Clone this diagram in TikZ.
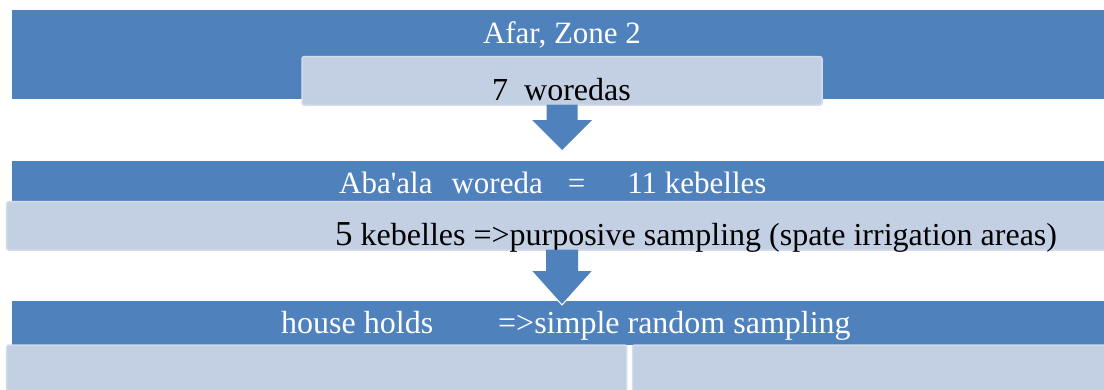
\documentclass[tikz,border=0pt]{standalone}
\usepackage{fontspec}
\setmainfont{Liberation Serif}
\definecolor{barblue}{HTML}{4F81BD}
\definecolor{lightfill}{HTML}{C3CFE2}
\definecolor{lightedge}{HTML}{D3DCEB}
\begin{document}
\begin{tikzpicture}[x=1pt,y=-1pt,
  bar/.style={fill=barblue, draw=none, anchor=north west, inner sep=0pt, outer sep=0pt},
  lightbox/.style={fill=lightfill, draw=lightedge, line width=1.5pt, rounded corners=2pt, anchor=north west, inner sep=0pt, outer sep=0pt},
  whitetxt/.style={text=white, font=\fontsize{31}{31}\selectfont, inner sep=0pt},
  blacktxt/.style={text=black, font=\fontsize{32}{32}\selectfont, inner sep=0pt},
  blockarrow/.style={fill=barblue, draw=none},
  tipedge/.style={draw=white, line width=1pt, line join=miter}
]
\useasboundingbox (0,0) rectangle (1104,389);
\clip (0,0) rectangle (1104,389);

% level 1
\node[bar, minimum width=1100pt, minimum height=89.3pt] (bar1) at (11.7,10) {};
\node[lightbox, minimum width=520pt, minimum height=48.3pt] (light1) at (302,56.7) {};
\node[whitetxt, anchor=base] (t1) at (562,43) {Afar, Zone 2};
\node[blacktxt, anchor=base west] (t2) at (492,100) {7\hspace{16pt}woredas};

% level 2
\node[bar, minimum width=1100pt, minimum height=40.7pt] (bar2) at (11.7,161) {};
\node[lightbox, minimum width=1105pt, minimum height=48.3pt] (light2) at (6.7,201.7) {};
\node[whitetxt, anchor=base west] (t3) at (339,193) {Aba\textquotesingle ala\hspace{19pt}woreda\hspace{25pt}=\hspace{42pt}11 kebelles};
\node[blacktxt, anchor=base west] (t4) at (335,245) {{\fontsize{35}{35}\selectfont 5} kebelles =>purposive sampling (spate irrigation areas)};

% level 3
\node[bar, minimum width=1100pt, minimum height=44.3pt] (bar3) at (11.7,300.7) {};
\node[lightbox, minimum width=620pt, minimum height=50pt] (light3a) at (6.7,345) {};
\node[lightbox, minimum width=480pt, minimum height=50pt] (light3b) at (632.6,345) {};
\node[whitetxt, font=\fontsize{32}{32}\selectfont, anchor=base west] (t5) at (281,333) {house holds\hspace{65pt}=>simple random sampling};

% arrow 1: light1 -> bar2
\begin{scope}[shift={(light1.south)}]
  \path[blockarrow] (-15.5,-0.5) -- (-15.5,15) -- (-30,15) -- (0,45) -- (30,15) -- (15.5,15) -- (15.5,-0.5) -- cycle;
\end{scope}

% arrow 2: light2 -> bar3
\begin{scope}[shift={(light2.south -| light1.south)}]
  \path[blockarrow] (-16,-0.5) -- (-16,21) -- (-30.5,21) -- (0,55) -- (30.5,21) -- (16,21) -- (16,-0.5) -- cycle;
  \draw[tipedge] (-30.5,21) -- (0,55) -- (30.5,21);
\end{scope}
\end{tikzpicture}
\end{document}
